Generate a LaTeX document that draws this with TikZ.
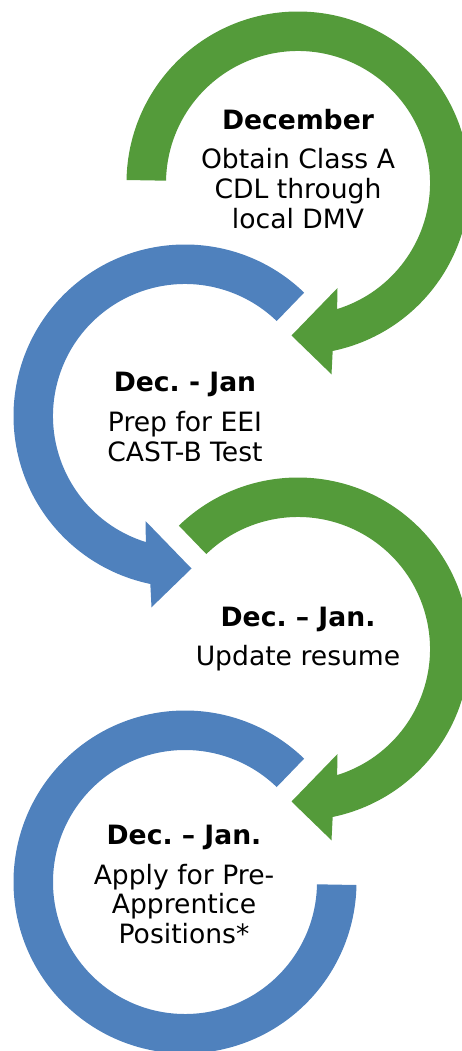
\documentclass[tikz,border=0pt]{standalone}
\usepackage{fontspec}
\setmainfont{DejaVu Sans}
\frenchspacing
\definecolor{arcgreen}{RGB}{84,155,58}
\definecolor{arcblue}{RGB}{79,129,189}
\tikzset{
  steptext/.style={anchor=base, align=center, inner sep=0pt, font=\fontsize{26.6}{29.5}\selectfont},
}
\newcommand{\rO}{171.5}
\newcommand{\rI}{132}
\begin{document}
\begin{tikzpicture}[x=1pt, y=-1pt]
\useasboundingbox (0,0) rectangle (462,1051);
% arc 1 (green, clockwise)
\begin{scope}[shift={(298,183)}]
\fill[arcgreen] (181:\rO) arc[start angle=181, end angle=438.33, radius=\rO]
  -- (33.5,191.3) -- (-6.5,152.5) -- (39.5,105) -- (432.76:\rI)
  arc[start angle=432.76, end angle=181, radius=\rI] -- cycle;
\end{scope}
% arc 2 (blue, counter-clockwise)
\begin{scope}[shift={(185,416)}]
\fill[arcblue] (314:\rO) arc[start angle=314, end angle=101.67, radius=\rO]
  -- (-33.5,191.3) -- (6.5,152.5) -- (-39.5,105) -- (107.24:\rI)
  arc[start angle=107.24, end angle=314, radius=\rI] -- cycle;
\end{scope}
% arc 3 (green, clockwise)
\begin{scope}[shift={(298,649)}]
\fill[arcgreen] (226:\rO) arc[start angle=226, end angle=438.33, radius=\rO]
  -- (33.5,191.3) -- (-6.5,152.5) -- (39.5,105) -- (432.76:\rI)
  arc[start angle=432.76, end angle=226, radius=\rI] -- cycle;
\end{scope}
% arc 4 (blue, no head)
\begin{scope}[shift={(185,882)}]
\fill[arcblue] (314:\rO) arc[start angle=314, end angle=1, radius=\rO]
  -- (1:\rI) arc[start angle=1, end angle=314, radius=\rI] -- cycle;
\end{scope}
% texts (anchor base = baseline of the last line)
\node[steptext] (t1) at (298,228) {\textbf{December}\\[10.5pt]Obtain Class A\\CDL through\\local DMV};
\node[steptext] (t2) at (185,461) {\textbf{Dec. - Jan}\\[10.5pt]Prep for EEI\\CAST-B Test};
\node[steptext] (t3) at (298,665) {\textbf{Dec. – Jan.}\\[9.5pt]Update resume};
\node[steptext] (t4) at (184,943) {\textbf{Dec. – Jan.}\\[10.5pt]Apply for Pre-\\Apprentice\\Positions*};
\end{tikzpicture}
\end{document}
